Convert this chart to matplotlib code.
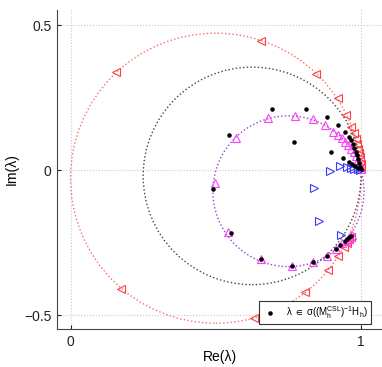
import numpy as np
import matplotlib
matplotlib.use("Agg")
import matplotlib.pyplot as plt
from matplotlib.patches import Circle

plt.rcParams['font.family'] = ['Liberation Sans', 'DejaVu Sans']
plt.rcParams['mathtext.fontset'] = 'custom'
plt.rcParams['mathtext.rm'] = 'Liberation Sans'
plt.rcParams['mathtext.it'] = 'Liberation Sans'
plt.rcParams['mathtext.default'] = 'regular'

# circles the spectra lie on: (centre re, centre im), radius
circle_centers = [(0.5, -0.028), (0.625, -0.02), (0.75, -0.073)]
circle_radii = [0.5, 0.375, 0.26]
circle_colors = ['#ff6a6a', '#444444', '#9a3fd0']

# red left-pointing triangles
red_re = [0.157, 0.654, 0.845, 0.921, 0.949, 0.967, 0.975, 0.982, 0.987, 0.991,
          0.994, 0.996, 0.998, 0.999, 1.0,
          0.174, 0.631, 0.806, 0.887, 0.919, 0.940, 0.952, 0.960, 0.965]
red_im = [0.339, 0.446, 0.333, 0.247, 0.190, 0.150, 0.128, 0.108, 0.090, 0.074,
          0.060, 0.046, 0.033, 0.020, 0.008,
          -0.411, -0.511, -0.420, -0.343, -0.297, -0.266, -0.250, -0.238, -0.230]

# magenta upward triangles
mag_re = [0.498, 0.570, 0.680, 0.772, 0.835, 0.877, 0.905, 0.922, 0.935, 0.946,
          0.956, 0.966, 0.974, 0.983, 0.990, 0.996, 1.0,
          0.541, 0.656, 0.762, 0.835, 0.883, 0.914, 0.935, 0.948, 0.957, 0.963, 0.968]
mag_im = [-0.044, 0.111, 0.178, 0.186, 0.177, 0.155, 0.132, 0.120, 0.109, 0.098,
          0.086, 0.074, 0.062, 0.050, 0.035, 0.018, 0.003,
          -0.215, -0.308, -0.331, -0.316, -0.297, -0.273, -0.253, -0.243, -0.236, -0.229, -0.224]

# blue right-pointing triangles
blue_re = [0.892, 0.929, 0.950, 0.965, 0.977, 0.988, 0.997, 0.839, 0.854, 0.932]
blue_im = [-0.003, 0.015, 0.012, 0.008, 0.005, 0.002, 0.0, -0.063, -0.175, -0.224]

# eigenvalues (black dots)
eig_re = [0.546, 0.694, 0.811, 0.881, 0.770, 0.921, 0.944, 0.958, 0.896, 0.938, 0.958,
          0.967, 0.972, 0.977, 0.982, 0.986, 0.990, 0.994, 0.997, 1.0,
          0.968, 0.978, 0.988, 0.492,
          0.551, 0.654, 0.762, 0.835, 0.883, 0.912, 0.929, 0.945, 0.952, 0.958, 0.965]
eig_im = [0.121, 0.209, 0.209, 0.182, 0.098, 0.155, 0.132, 0.113, 0.063, 0.041, 0.028,
          0.103, 0.090, 0.077, 0.064, 0.051, 0.038, 0.025, 0.012, 0.002,
          0.022, 0.015, 0.008, -0.064,
          -0.216, -0.307, -0.331, -0.316, -0.297, -0.273, -0.259, -0.245, -0.238, -0.232, -0.226]

legend_label = r'$\lambda\ \in\ \sigma((M_h^{CSL})^{-1}H_h)$'

fig = plt.figure(figsize=(3.82, 3.67), dpi=100)
ax = fig.add_axes([57 / 382, 38 / 367, 325 / 382, 319 / 367])

for c, r, col in zip(circle_centers, circle_radii, circle_colors):
    ax.add_patch(Circle(c, r, fill=False, ls=':', lw=1.0, color=col))

ax.plot(red_re, red_im, '<', ms=6, mfc='none', mec='#ff4040', mew=0.8, ls='none')
ax.plot(mag_re, mag_im, '^', ms=6, mfc='none', mec='#ff40ff', mew=0.8, ls='none')
ax.plot(blue_re, blue_im, '>', ms=6, mfc='none', mec='#3a3aff', mew=0.8, ls='none')
ax.plot(eig_re, eig_im, '.', ms=4.5, color='black', ls='none', label=legend_label)

ax.set_xlim(-0.0465, 1.072)
ax.set_ylim(-0.548, 0.552)
ax.set_xticks([0, 1])
ax.set_xticklabels(['0', '1'])
ax.set_yticks([-0.5, 0, 0.5])
ax.set_yticklabels(['\u22120.5', '0', '0.5'])
ax.tick_params(direction='in', length=3, labelsize=10, colors='#222222', pad=4)
ax.grid(True, ls=':', color='#c8c8c8', lw=0.8)
ax.set_axisbelow(True)
for s in ['top', 'right']:
    ax.spines[s].set_visible(False)
for s in ['left', 'bottom']:
    ax.spines[s].set_color('#444444')
ax.set_xlabel('Re(\u03bb)', fontsize=10, labelpad=1)
ax.set_ylabel('Im(\u03bb)', fontsize=10, labelpad=4)

leg = ax.legend(loc='lower right', bbox_to_anchor=(371 / 382, 43 / 367),
                bbox_transform=fig.transFigure, fontsize=7, frameon=True,
                fancybox=False, edgecolor='#333333', framealpha=1,
                handlelength=1.6, borderpad=0.3, borderaxespad=0, handletextpad=0.9)
leg.get_frame().set_linewidth(0.8)

fig.savefig('out.png', dpi=100)
